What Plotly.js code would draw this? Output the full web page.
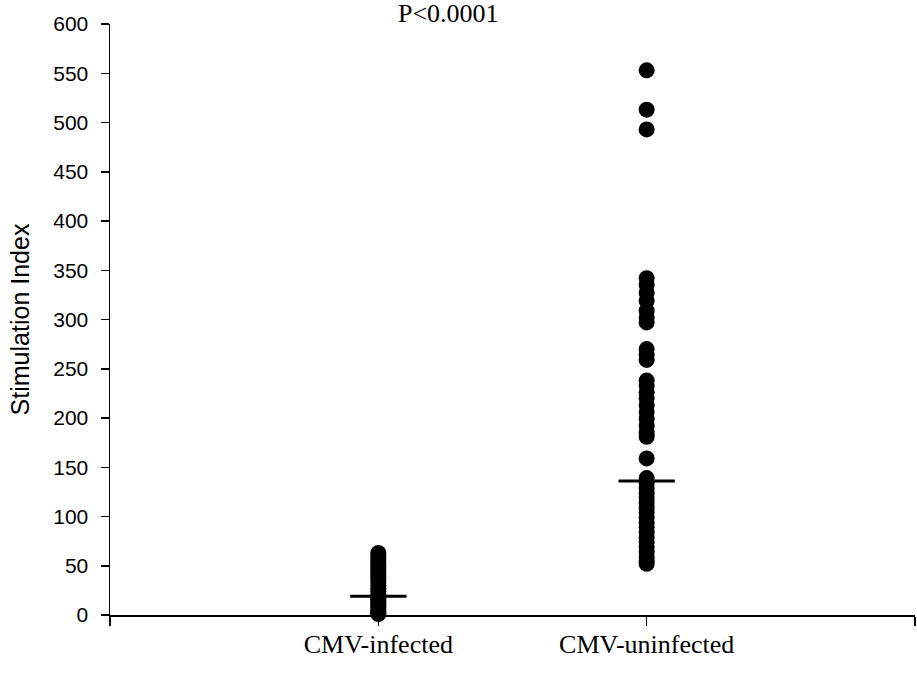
<!DOCTYPE html>
<html>
<head>
<meta charset="utf-8">
<script src="https://cdn.plot.ly/plotly-3.0.1.min.js"></script>
<style>html,body{margin:0;padding:0;background:#fff;}#chart{width:917px;height:678px;}</style>
</head>
<body>
<div id="chart"></div>
<script>
// Categories and tick labels
const categories = ['CMV-infected', 'CMV-uninfected'];
const categoryPositions = [1, 2];

// Stimulation index values
const infectedValues = [63, 60, 57, 54, 51, 48, 45, 42, 39, 36, 33, 30, 27, 24, 21, 19, 17, 15, 13, 11, 9, 7, 5, 3, 2, 1];
const uninfectedValues = [553, 513, 493, 342, 335, 327, 319, 309, 302, 297, 270, 264, 259, 238, 233, 226, 220, 213, 206, 199, 192, 185, 181, 159,
  139, 134, 129, 124, 119, 114, 109, 104, 99, 94, 89, 84, 79, 74, 69, 64, 59, 55, 52];

// Horizontal summary lines (median)
const medianValues = [19, 136];
const medianHalfWidth = 0.105;

const yTicks = [0, 50, 100, 150, 200, 250, 300, 350, 400, 450, 500, 550, 600];

const dotStyle = {color: '#000', size: 16, line: {width: 0}};

const traces = [
  {x: infectedValues.map(() => categoryPositions[0]), y: infectedValues, type: 'scatter', mode: 'markers', marker: dotStyle, cliponaxis: false, hoverinfo: 'y'},
  {x: uninfectedValues.map(() => categoryPositions[1]), y: uninfectedValues, type: 'scatter', mode: 'markers', marker: dotStyle, cliponaxis: false, hoverinfo: 'y'}
];
medianValues.forEach((m, i) => {
  traces.push({
    x: [categoryPositions[i] - medianHalfWidth, categoryPositions[i] + medianHalfWidth],
    y: [m, m], type: 'scatter', mode: 'lines', line: {color: '#000', width: 3}, cliponaxis: false, hoverinfo: 'skip'
  });
});

const layout = {
  width: 917, height: 678,
  margin: {l: 110, r: 2, t: 24, b: 63},
  paper_bgcolor: '#fff', plot_bgcolor: '#fff',
  showlegend: false,
  xaxis: {
    range: [0, 3],
    tickvals: [0].concat(categoryPositions, [3]),
    ticktext: [''].concat(categories, ['']),
    ticks: 'outside', ticklen: 9, tickwidth: 1.5, tickcolor: '#000',
    showline: true, linecolor: '#000', linewidth: 1.5,
    showgrid: false, zeroline: false,
    ticklabelstandoff: -4,
    tickfont: {family: 'Liberation Serif, Times New Roman, serif', size: 26, color: '#000'}
  },
  yaxis: {
    range: [0, 600],
    tickvals: yTicks,
    ticks: 'outside', ticklen: 8, tickwidth: 1.5, tickcolor: '#000',
    showline: true, linecolor: '#000', linewidth: 1.5,
    showgrid: false, zeroline: false,
    ticklabelstandoff: 8,
    tickfont: {family: 'Liberation Sans, Arial, sans-serif', size: 21, color: '#000'},
    title: {text: 'Stimulation Index', font: {family: 'Liberation Sans, Arial, sans-serif', size: 25, color: '#000'}, standoff: 16}
  },
  annotations: [{
    text: 'P<0.0001', xref: 'paper', yref: 'paper', x: 0.42, y: 1.017,
    xanchor: 'center', yanchor: 'middle', showarrow: false,
    font: {family: 'Liberation Serif, Times New Roman, serif', size: 26, color: '#000'}
  }]
};

Plotly.newPlot('chart', traces, layout, {displayModeBar: false, staticPlot: true});
</script>
</body>
</html>
